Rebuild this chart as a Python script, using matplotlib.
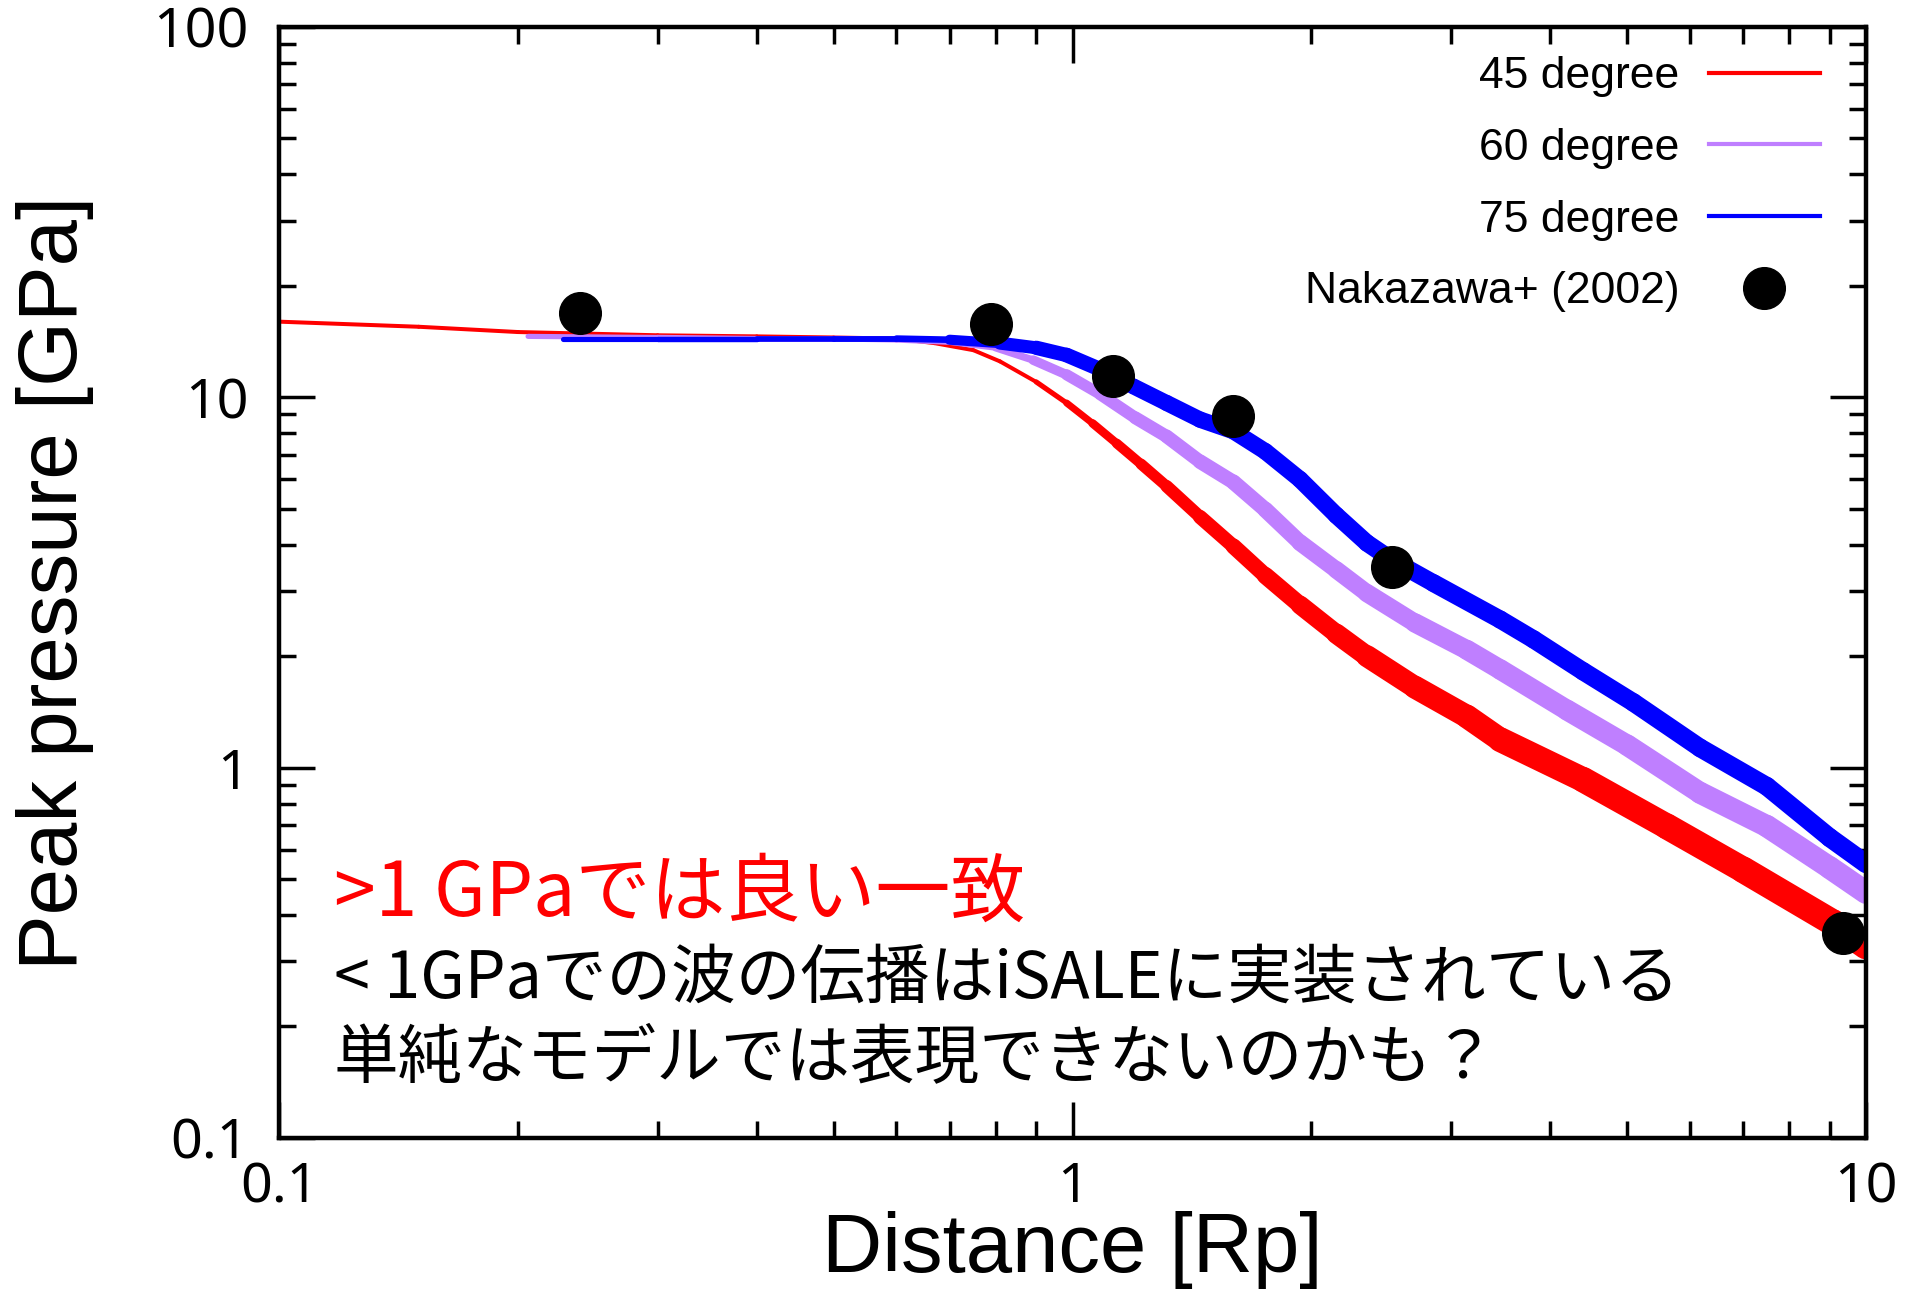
import numpy as np
import matplotlib
matplotlib.use('Agg')
import matplotlib.pyplot as plt
from matplotlib.collections import LineCollection
from matplotlib.lines import Line2D
from matplotlib.ticker import FixedLocator, FixedFormatter, LogLocator, NullFormatter

# データ
x45 = [0.1, 0.15, 0.2, 0.3, 0.4, 0.5, 0.6, 0.67, 0.75, 0.81, 0.9, 0.983, 1.06, 1.137, 1.22,
       1.314, 1.448, 1.595, 1.75, 1.935, 2.15, 2.35, 2.7, 3.14, 3.46, 4.4, 5.61, 7.0, 9.09, 10.0]
y45 = [16.0, 15.5, 15.0, 14.7, 14.6, 14.5, 14.4, 14.0, 13.4, 12.5, 11.0, 9.65, 8.5, 7.5, 6.6,
       5.75, 4.75, 3.96, 3.3, 2.75, 2.3, 2.0, 1.65, 1.375, 1.19, 0.928, 0.694, 0.53, 0.381, 0.33]

x60 = [0.206, 0.3, 0.4, 0.5, 0.6, 0.7, 0.8, 0.892, 0.983, 1.083, 1.2, 1.314, 1.448, 1.595,
       1.75, 1.935, 2.15, 2.35, 2.7, 3.14, 3.46, 4.2, 5.0, 6.18, 7.5, 9.0, 10.0]
y60 = [14.6, 14.5, 14.4, 14.4, 14.3, 14.1, 13.6, 12.6, 11.5, 10.2, 8.8, 7.84, 6.7, 5.9,
       4.97, 4.05, 3.42, 2.96, 2.46, 2.08, 1.84, 1.43, 1.15, 0.855, 0.695, 0.537, 0.46]

x75 = [0.228, 0.3, 0.4, 0.5, 0.6, 0.7, 0.81, 0.9, 0.983, 1.083, 1.193, 1.314, 1.448, 1.595,
       1.75, 1.935, 2.15, 2.35, 2.525, 2.85, 3.46, 3.81, 4.4, 5.09, 6.18, 7.5, 9.0, 10.0]
y75 = [14.4, 14.4, 14.4, 14.4, 14.4, 14.3, 14.0, 13.6, 13.0, 11.9, 10.7, 9.65, 8.7, 8.1,
       7.14, 6.0, 4.8, 4.04, 3.64, 3.15, 2.51, 2.22, 1.82, 1.50, 1.13, 0.89, 0.647, 0.55]

nakazawa_x = [0.2394, 0.789, 1.126, 1.595, 2.525, 9.36]
nakazawa_y = [16.9, 15.76, 11.43, 8.91, 3.48, 0.358]

labels = ['45 degree', '60 degree', '75 degree', 'Nakazawa+ (2002)']
colors = ['#ff0000', '#bf7fff', '#0000ff']

note_red = '>1 GPaでは良い一致'
note_black = ['< 1GPaでの波の伝播はiSALEに実装されている',
              '単純なモデルでは表現できないのかも？']

# 線の太さ (px) : log10(x) に対して太くなる
width_knots = [
    ([-1.0, -0.05, 0.05, 0.2, 0.4, 0.6, 1.0], [4, 4, 9, 15, 22, 25, 27]),
    ([-0.7, -0.1, 0.0, 0.2, 0.5, 1.0], [5, 6, 11, 15, 20, 23]),
    ([-0.65, -0.2, -0.05, 0.1, 0.5, 1.0], [5, 6, 14, 16, 18, 19]),
]


def band(ax, x, y, knots, color):
    pts = np.column_stack([x, y])
    segs = np.stack([pts[:-1], pts[1:]], axis=1)
    mid = 0.5 * (np.log10(x[:-1]) + np.log10(x[1:]))
    lw = np.interp(mid, knots[0], knots[1]) * 0.72
    lc = LineCollection(segs, colors=color, linewidths=lw, capstyle='round', joinstyle='round')
    ax.add_collection(lc)


fig = plt.figure(figsize=(19.19, 12.93), dpi=100)
ax = fig.add_axes([0.1454, 0.1199, 0.8270, 0.8593])
ax.set_xscale('log')
ax.set_yscale('log')
ax.set_xlim(0.1, 10)
ax.set_ylim(0.1, 100)

for xs, ys, kn, c in zip([x45, x60, x75], [y45, y60, y75], width_knots, colors):
    band(ax, np.array(xs), np.array(ys), kn, c)

ax.plot(nakazawa_x, nakazawa_y, 'o', color='black', markersize=30, zorder=5)

# 目盛り
ax.xaxis.set_major_locator(FixedLocator([0.1, 1, 10]))
ax.xaxis.set_major_formatter(FixedFormatter(['0.1', '1', '10']))
ax.yaxis.set_major_locator(FixedLocator([0.1, 1, 10, 100]))
ax.yaxis.set_major_formatter(FixedFormatter(['0.1', '1', '10', '100']))
for axis in (ax.xaxis, ax.yaxis):
    axis.set_minor_locator(LogLocator(base=10, subs=np.arange(2, 10)))
    axis.set_minor_formatter(NullFormatter())
ax.tick_params(which='both', direction='in', top=True, right=True, width=2.5, color='black')
ax.tick_params(which='major', length=26)
ax.tick_params(which='minor', length=12)
ax.tick_params(axis='x', which='major', pad=16)
ax.tick_params(axis='y', which='major', pad=22)
for lab in ax.get_xticklabels() + ax.get_yticklabels():
    lab.set_fontfamily('Noto Sans')
    lab.set_fontsize(40)
for sp in ax.spines.values():
    sp.set_linewidth(3.2)

ax.set_xlabel('Distance [Rp]', fontfamily='Liberation Sans', fontsize=60)
ax.set_ylabel('Peak pressure [GPa]', fontfamily='Liberation Sans', fontsize=60)
ax.xaxis.set_label_coords(0.5, -0.066)
ax.yaxis.set_label_coords(-0.1166, 0.5)

# 凡例
handles = [Line2D([], [], color=c, lw=3) for c in colors]
handles.append(Line2D([], [], ls='none', marker='o', color='black', markersize=30))
leg = ax.legend(handles, labels, loc='upper right', bbox_to_anchor=(0.971, 0.9735),
                frameon=False, markerfirst=False, borderaxespad=0, borderpad=0,
                handlelength=2.5, handletextpad=0.66, labelspacing=0.69,
                prop={'family': 'Liberation Sans', 'size': 32})

# 注釈
fig.text(0.174, 0.2916, note_red, color='#ff0000', fontsize=54, va='baseline',
         family=['Noto Sans CJK JP', 'DejaVu Sans'])
for t, yy in zip(note_black, [0.2281, 0.1670]):
    fig.text(0.174, yy, t, color='black', fontsize=46.5, va='baseline',
             family=['Noto Sans CJK JP', 'DejaVu Sans'])

fig.savefig('out.png', dpi=100)
